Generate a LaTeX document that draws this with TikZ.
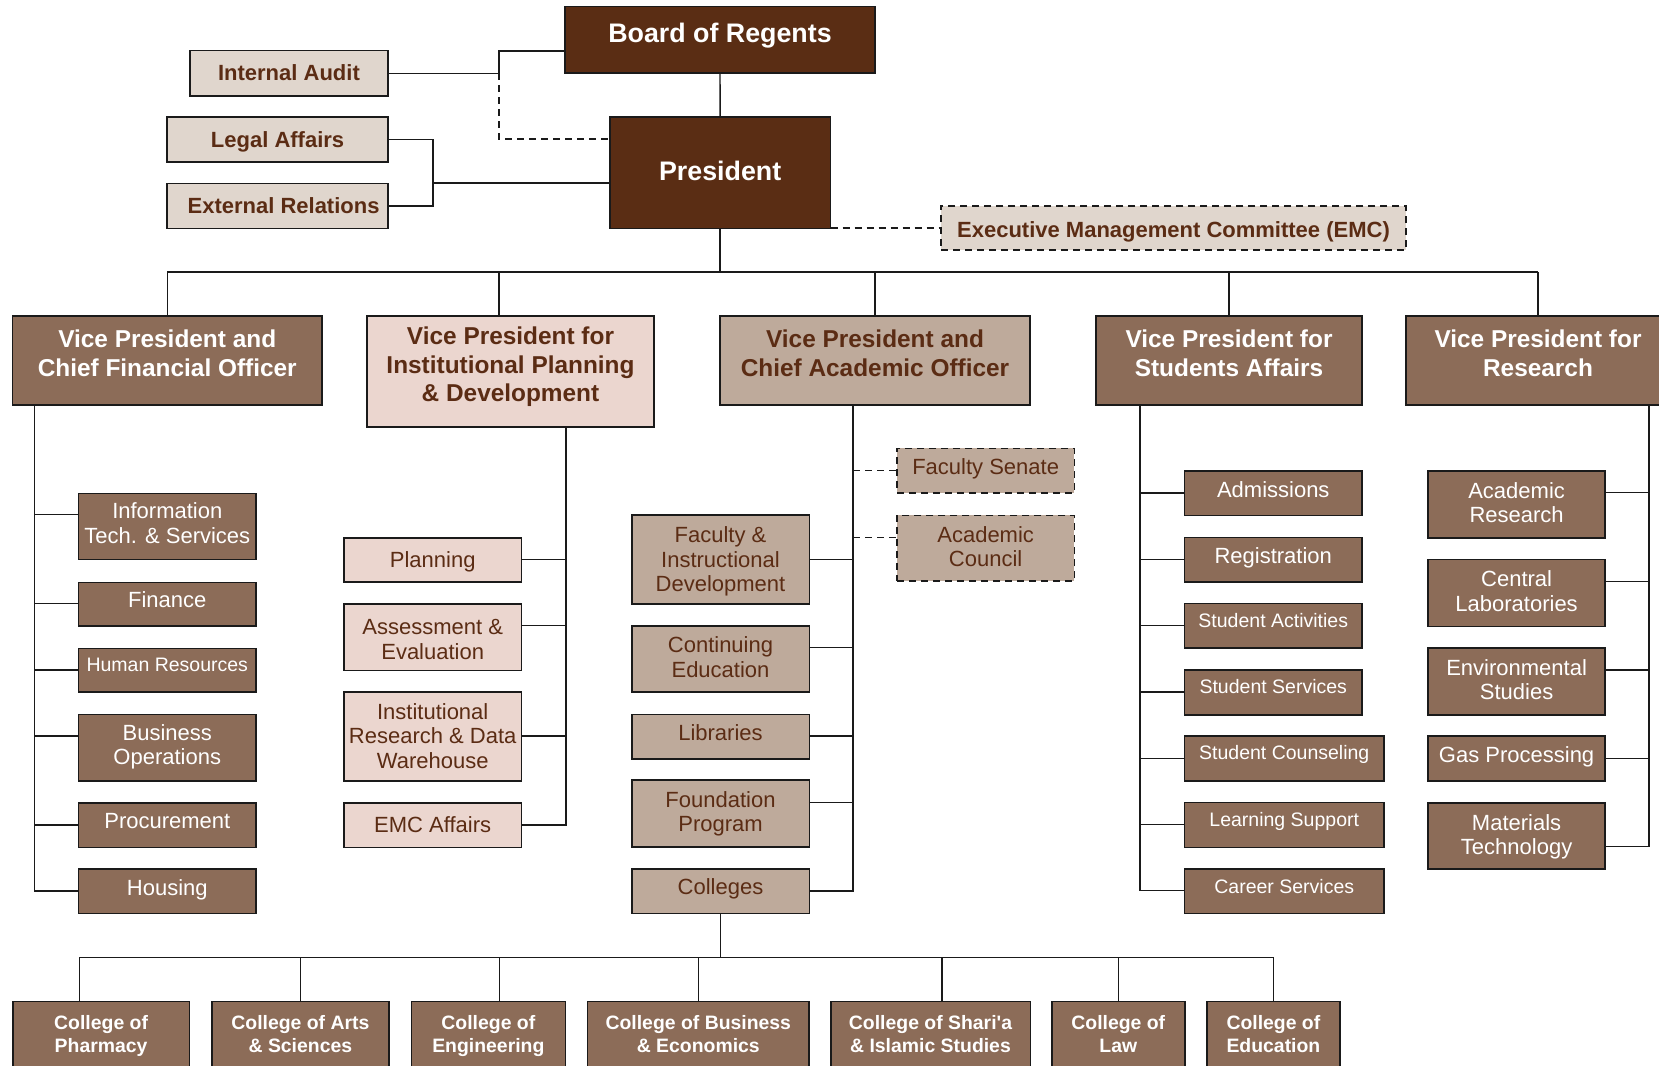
\documentclass[tikz,border=0pt]{standalone}
\usepackage{fontspec}
\setmainfont{Liberation Sans}
\definecolor{darkb}{HTML}{5A2D14}
\definecolor{midb}{HTML}{8C6C58}
\definecolor{tanb}{HTML}{BEAA9B}
\definecolor{pinkb}{HTML}{EBD6CF}
\definecolor{beigeb}{HTML}{E0D6CD}
\definecolor{txtb}{HTML}{5B2C14}
\definecolor{bordc}{HTML}{1A1A1A}
\newcommand{\bx}[8]{%
  \pgfmathsetmacro\bxcx{(#3+#5)/2}%
  \pgfmathsetmacro\bxcy{(#4+#6)/2}%
  \pgfmathsetmacro\bxw{#5-#3}%
  \pgfmathsetmacro\bxh{#6-#4}%
  \node[#2, minimum width=\bxw pt, minimum height=\bxh pt] (#1) at (\bxcx,\bxcy)
    {\raisebox{#7pt}[\height][\depth]{\begin{tabular}{@{}c@{}}#8\end{tabular}}};%
}
\tikzset{
  base/.style={draw=bordc, line width=1.6pt, inner sep=0pt, outer sep=0pt, rectangle},
  topbox/.style={base, fill=darkb, text=white, font=\bfseries\fontsize{26.8}{32}\selectfont},
  staffbox/.style={base, fill=beigeb, text=txtb, font=\bfseries\fontsize{22}{25}\selectfont},
  vpdark/.style={base, fill=midb, text=white, font=\bfseries\fontsize{24.4}{28.5}\selectfont},
  vppink/.style={vpdark, fill=pinkb, text=txtb},
  vptan/.style={vpdark, fill=tanb, text=txtb},
  subdark/.style={base, fill=midb, text=white, font=\fontsize{22}{24.5}\selectfont},
  subsmall/.style={subdark, font=\fontsize{19.5}{22}\selectfont},
  subpink/.style={subdark, fill=pinkb, text=txtb},
  subtan/.style={subdark, fill=tanb, text=txtb},
  college/.style={base, fill=midb, text=white, font=\bfseries\fontsize{19.4}{22.3}\selectfont},
  dashedbox/.style={dash pattern=on 7pt off 5pt},
  conn/.style={draw=bordc, line width=1.4pt},
  dconn/.style={conn, dash pattern=on 7pt off 5pt},
}
\begin{document}
\begin{tikzpicture}[x=1pt, y=-1pt]
\useasboundingbox (0,0) rectangle (1659,1065);
\clip (0,0) rectangle (1659,1065);
\fill[white] (0,0) rectangle (1659,1065);

% top level
\bx{board}{topbox}{565}{6.7}{875}{72.7}{3.8}{Board of Regents}
\bx{pres}{topbox}{609.7}{116.7}{830.6}{228.3}{-2}{President}
\bx{ia}{staffbox}{189.7}{50.7}{388.2}{95.7}{-2.5}{Internal Audit}
\bx{la}{staffbox}{167.2}{116.7}{388}{161.7}{-3}{Legal Affairs}
\bx{er}{staffbox}{167.2}{183.3}{388}{228.3}{-3}{\hspace*{12pt}External Relations}
\bx{emc}{staffbox,dashedbox}{941}{205.7}{1406}{250}{-5}{Executive Management Committee (EMC)}

% vice presidents
\bx{cfo}{vpdark}{12.5}{316}{322}{405}{4}{Vice President and\\Chief Financial Officer}
\bx{ipd}{vppink}{367}{316}{654}{426.7}{4}{Vice President for\\Institutional Planning\\\& Development}
\bx{cao}{vptan}{720}{316}{1030}{405}{4}{Vice President and\\Chief Academic Officer}
\bx{sa}{vpdark}{1096}{316}{1362}{405}{4}{Vice President for\\Students Affairs}
\bx{vpr}{vpdark}{1406}{316}{1670}{405}{4}{Vice President for\\Research}

% CFO units
\bx{it}{subdark}{78.6}{493.3}{256}{559.3}{0}{Information\\Tech. \& Services}
\bx{fin}{subdark}{78.6}{582.3}{256}{625.7}{1.5}{Finance}
\bx{hr}{subsmall}{78.6}{648.3}{256}{692}{2.6}{Human Resources}
\bx{bo}{subdark}{78.6}{714.3}{256}{780.7}{0}{Business\\Operations}
\bx{proc}{subdark}{78.6}{802.7}{256}{847.3}{1.2}{Procurement}
\bx{hous}{subdark}{78.6}{869}{256}{913.3}{0.8}{Housing}

% IPD units
\bx{plan}{subpink}{344}{537.7}{521.4}{582}{-3}{Planning}
\bx{ass}{subpink}{344}{603.7}{521.4}{670.3}{-5}{Assessment \&\\Evaluation}
\bx{irdw}{subpink}{344}{692}{521.4}{780.7}{-2.5}{Institutional\\Research \& Data\\Warehouse}
\bx{emca}{subpink}{344}{802.7}{521.4}{847.3}{-2.5}{EMC Affairs}

% CAO units
\bx{fid}{subtan}{631.7}{515}{809.3}{603.7}{-3}{Faculty \&\\Instructional\\Development}
\bx{ce}{subtan}{631.7}{626}{809.3}{692}{-1}{Continuing\\Education}
\bx{lib}{subtan}{631.7}{714.3}{809.3}{759}{1.5}{Libraries}
\bx{fp}{subtan}{631.7}{780}{809.3}{847}{-1.2}{Foundation\\Program}
\bx{col}{subtan}{631.7}{869}{809.3}{913.3}{1.2}{Colleges}
\bx{fs}{subtan,dashedbox}{897}{448.3}{1074.3}{492.7}{0.7}{Faculty Senate}
\bx{ac}{subtan,dashedbox}{897}{515.3}{1074.3}{581}{-1.5}{Academic\\Council}

% Student affairs units
\bx{adm}{subdark}{1184.5}{470.7}{1362}{515.3}{0.5}{Admissions}
\bx{reg}{subdark}{1184.5}{537.3}{1362}{582}{0.9}{Registration}
\bx{sact}{subsmall}{1184.5}{603.3}{1362}{648}{2.6}{Student Activities}
\bx{sserv}{subsmall}{1184.5}{670}{1362}{714.7}{3.4}{Student Services}
\bx{scoun}{subsmall}{1184.5}{736}{1384}{781}{3}{Student Counseling}
\bx{ls}{subsmall}{1184.5}{802.3}{1384}{847.3}{2.7}{Learning Support}
\bx{cs}{subsmall}{1184.5}{868.7}{1384}{913.3}{2.2}{Career Services}

% Research units
\bx{ar}{subdark}{1428}{470.7}{1605.2}{537.7}{-1.3}{Academic\\Research}
\bx{cl}{subdark}{1428}{559.3}{1605.2}{626.3}{-1.4}{Central\\Laboratories}
\bx{env}{subdark}{1428}{648}{1605.2}{714.7}{-1}{Environmental\\Studies}
\bx{gas}{subdark}{1428}{736}{1605.2}{781}{1}{Gas Processing}
\bx{mt}{subdark}{1428}{802.7}{1605.2}{869}{-1.5}{Materials\\Technology}

% colleges
\bx{pharm}{college}{12.7}{1001.3}{189.5}{1072}{0}{College of\\Pharmacy}
\bx{arts}{college}{211.8}{1001.3}{389}{1072}{0}{College of Arts\\\& Sciences}
\bx{eng}{college}{411.3}{1001.3}{565.4}{1072}{0}{College of\\Engineering}
\bx{busc}{college}{587.6}{1001.3}{809}{1072}{0}{College of Business\\\& Economics}
\bx{shar}{college}{830.7}{1001.3}{1030.3}{1072}{0}{College of Shari\textquotesingle a\\\& Islamic Studies}
\bx{law}{college}{1051.7}{1001.3}{1184.9}{1072}{0}{College of\\Law}
\bx{edu}{college}{1206.8}{1001.3}{1340}{1072}{0}{College of\\Education}

% ---- connectors: top
\draw[conn] (board.south) -- (pres.north);
\coordinate (jA) at (499,51);
\coordinate (jB) at (499,139);
\draw[conn] (board.west |- jA) -- (jA) -- (jA |- ia.east) -- (ia.east);
\draw[dconn] (jA |- ia.east) -- (jB) -- (pres.west |- jB);
\coordinate (jC) at (433,183);
\draw[conn] (la.east) -- (jC |- la.east) -- (jC |- er.east) -- (er.east);
\draw[conn] (jC) -- (pres.west |- jC);
\draw[dconn] (pres.east |- emc.west) -- (emc.west);

% bus to VPs
\coordinate (bus) at (720,272);
\draw[conn] (pres.south) -- (pres.south |- bus);
\draw[conn] (cfo.north |- bus) -- (vpr.north |- bus);
\draw[conn] (cfo.north) -- (cfo.north |- bus);
\draw[conn] (ipd.north -| 499,0) -- (499,272);
\draw[conn] (cao.north) -- (cao.north |- bus);
\draw[conn] (sa.north) -- (sa.north |- bus);
\draw[conn] (vpr.north) -- (vpr.north |- bus);

% CFO spine
\draw[conn] (cfo.south -| 34.7,0) -- (34.7,891) -- (hous.west |- 0,891);
\draw[conn] (34.7,514.3) -- (it.west |- 0,514.3);
\draw[conn] (34.7,603.3) -- (fin.west |- 0,603.3);
\draw[conn] (34.7,670) -- (hr.west |- 0,670);
\draw[conn] (34.7,736) -- (bo.west |- 0,736);
\draw[conn] (34.7,825) -- (proc.west |- 0,825);

% IPD spine
\draw[conn] (ipd.south -| 566,0) -- (566,825) -- (emca.east |- 0,825);
\draw[conn] (566,559.3) -- (plan.east |- 0,559.3);
\draw[conn] (566,625.3) -- (ass.east |- 0,625.3);
\draw[conn] (566,736) -- (irdw.east |- 0,736);

% CAO spine
\draw[conn] (cao.south -| 853,0) -- (853,891) -- (col.east |- 0,891);
\draw[conn] (853,559.3) -- (fid.east |- 0,559.3);
\draw[conn] (853,647.7) -- (ce.east |- 0,647.7);
\draw[conn] (853,736) -- (lib.east |- 0,736);
\draw[conn] (853,802.3) -- (fp.east |- 0,802.3);
\draw[dconn] (853,470.7) -- (fs.west |- 0,470.7);
\draw[dconn] (853,537.3) -- (ac.west |- 0,537.3);

% SA spine
\draw[conn] (sa.south -| 1140,0) -- (1140,890.7) -- (cs.west |- 0,890.7);
\draw[conn] (1140,493) -- (adm.west |- 0,493);
\draw[conn] (1140,559.3) -- (reg.west |- 0,559.3);
\draw[conn] (1140,625.3) -- (sact.west |- 0,625.3);
\draw[conn] (1140,692) -- (sserv.west |- 0,692);
\draw[conn] (1140,758.3) -- (scoun.west |- 0,758.3);
\draw[conn] (1140,824.7) -- (ls.west |- 0,824.7);

% Research spine
\draw[conn] (vpr.south -| 1649,0) -- (1649,846.7) -- (mt.east |- 0,846.7);
\draw[conn] (1649,492.7) -- (ar.east |- 0,492.7);
\draw[conn] (1649,581.3) -- (cl.east |- 0,581.3);
\draw[conn] (1649,670) -- (env.east |- 0,670);
\draw[conn] (1649,758.3) -- (gas.east |- 0,758.3);

% colleges bus
\coordinate (cbus) at (720,957.3);
\draw[conn] (col.south) -- (col.south |- cbus);
\draw[conn] (79.4,957.3) -- (1273.7,957.3);
\draw[conn] (79.4,957.3) -- (pharm.north -| 79.4,0);
\draw[conn] (300.7,957.3) -- (arts.north -| 300.7,0);
\draw[conn] (499.2,957.3) -- (eng.north -| 499.2,0);
\draw[conn] (698.3,957.3) -- (busc.north -| 698.3,0);
\draw[conn] (942,957.3) -- (shar.north -| 942,0);
\draw[conn] (1118.6,957.3) -- (law.north -| 1118.6,0);
\draw[conn] (1273.7,957.3) -- (edu.north -| 1273.7,0);
\end{tikzpicture}
\end{document}
